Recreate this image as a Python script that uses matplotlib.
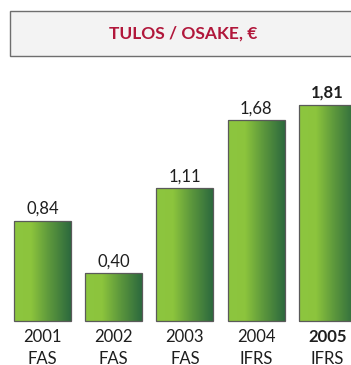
import numpy as np
import matplotlib.pyplot as plt
from matplotlib.patches import Rectangle
from matplotlib.colors import LinearSegmentedColormap

years = ['2001', '2002', '2003', '2004', '2005']
standards = ['FAS', 'FAS', 'FAS', 'IFRS', 'IFRS']
eps = [0.84, 0.40, 1.11, 1.68, 1.81]
labels = ['0,84', '0,40', '1,11', '1,68', '1,81']
title = 'TULOS / OSAKE, €'

W, H = 351, 365
fig = plt.figure(figsize=(W / 100, H / 100), dpi=100)
fig.patch.set_facecolor('white')

font = ['Lato', 'DejaVu Sans']

# header box, running off the right edge
fig.patches.append(Rectangle((10 / W, 1 - 56 / H), 360 / W, 45 / H,
                             transform=fig.transFigure, facecolor='#f3f3f3',
                             edgecolor='#6e6e6e', linewidth=1.0))
fig.text(183 / W, 1 - 34 / H, title, ha='center', va='center',
         color='#b1173b', fontsize=12.5, fontweight='bold', family=font)

ax = fig.add_axes([0, 0, 1, 1])
pitch = 71.2
x0 = 42.5
ppu = 119.5
base = 44
ax.set_xlim(-x0 / pitch, (W - x0) / pitch)
ax.set_ylim(-base / ppu, (H - base) / ppu)
ax.axis('off')

green = LinearSegmentedColormap.from_list(
    'grn', [(0, '#8dc63f'), (0.3, '#8cc43d'), (0.6, '#5f9a3c'), (1, '#2c693e')])
grad = np.linspace(0, 1, 256).reshape(1, -1)

width = 0.8
x = np.arange(len(eps))
bars = ax.bar(x, eps, width=width, facecolor='none', edgecolor='#5a5a5a',
              linewidth=0.9, zorder=3)
for b, v in zip(bars, eps):
    im = ax.imshow(grad, cmap=green, aspect='auto', zorder=2,
                   extent=(b.get_x(), b.get_x() + width, 0, v))
    im.set_clip_path(b)

for i, (v, lab) in enumerate(zip(eps, labels)):
    bold = 'bold' if i == len(eps) - 1 else 'normal'
    ax.annotate(lab, (i, v), xytext=(0, 8.5), textcoords='offset points',
                ha='center', va='center', fontsize=12, fontweight=bold,
                color='#1e1e1e', family=font)
    ax.annotate(years[i], (i, 0), xytext=(0, -11.5), textcoords='offset points',
                ha='center', va='center', fontsize=12, fontweight=bold,
                color='#1e1e1e', family=font)
    ax.annotate(standards[i], (i, 0), xytext=(0, -27), textcoords='offset points',
                ha='center', va='center', fontsize=12,
                color='#1e1e1e', family=font)

fig.savefig('out.png', dpi=100)
